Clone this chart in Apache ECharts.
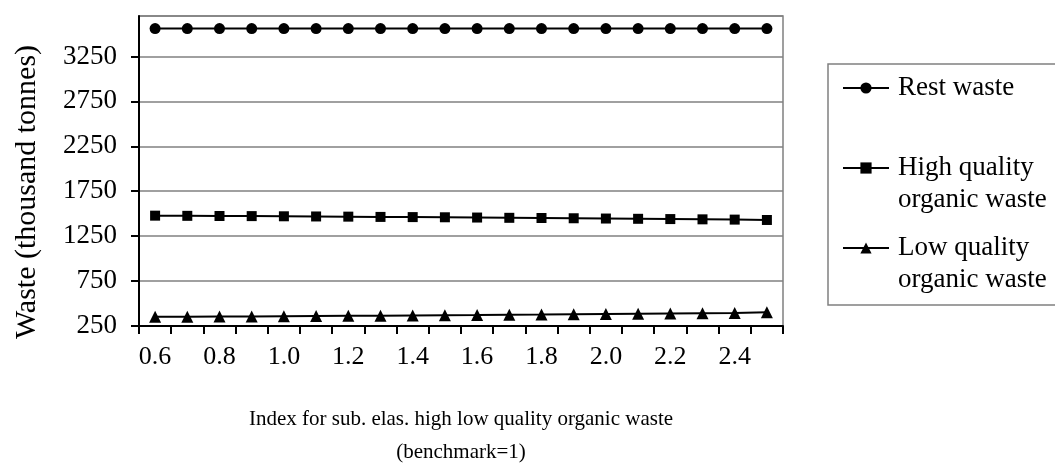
<!DOCTYPE html>
<html>
<head>
<meta charset="utf-8">
<script src="https://cdn.jsdelivr.net/npm/echarts@6/dist/echarts.min.js"></script>
<style>
  html, body { margin: 0; padding: 0; background: #fff; }
  #chart { width: 1055px; height: 467px; }
</style>
</head>
<body>
<div id="chart"></div>
<script>
// Index for substitution elasticity (benchmark = 1)
const indexValues = ['0.6', '0.7', '0.8', '0.9', '1.0', '1.1', '1.2', '1.3', '1.4', '1.5',
                     '1.6', '1.7', '1.8', '1.9', '2.0', '2.1', '2.2', '2.3', '2.4', '2.5'];

// Waste, thousand tonnes
const restWaste = [3560, 3560, 3560, 3560, 3560, 3560, 3560, 3560, 3560, 3560,
                   3560, 3560, 3560, 3560, 3560, 3560, 3560, 3560, 3560, 3560];
const highQualityOrganic = [1478, 1476, 1474, 1473, 1471, 1469, 1467, 1464, 1462, 1460,
                            1457, 1454, 1452, 1449, 1446, 1443, 1440, 1437, 1434, 1430];
const lowQualityOrganic = [352, 353, 355, 357, 359, 361, 363, 365, 367, 370,
                           372, 375, 377, 380, 383, 386, 389, 392, 396, 402];

const seriesNames = ['Rest waste', 'High quality\norganic waste', 'Low quality\norganic waste'];

const FONT = '"Liberation Serif", "Times New Roman", serif';
const LINE_H = 31.5;

const chart = echarts.init(document.getElementById('chart'), null, { renderer: 'canvas' });

function lineSeries(name, data, symbol, size) {
  return {
    name: name,
    type: 'line',
    data: data,
    symbol: symbol,
    symbolSize: size,
    showSymbol: true,
    lineStyle: { color: '#000', width: 2 },
    itemStyle: { color: '#000' },
    emphasis: { disabled: true },
    animation: false
  };
}

const legendCommon = {
  orient: 'vertical',
  itemWidth: 46,
  itemHeight: 14,
  selectedMode: false,
  textStyle: { fontFamily: FONT, fontSize: 27, color: '#000', lineHeight: LINE_H, padding: [0, 0, 0, 4] }
};

// two-line entries: a leading blank line puts the marker beside the first line
const twoLine = name => '\n' + name;

chart.setOption({
  animation: false,
  backgroundColor: '#fff',
  grid: {
    left: 139, top: 16, width: 644, height: 310,
    outerBoundsMode: 'none',
    containLabel: false,
    show: true, borderColor: '#808080', borderWidth: 1.5, backgroundColor: 'transparent'
  },
  legend: [
    Object.assign({}, legendCommon, {
      data: [seriesNames[0]],
      left: 828, top: 64,
      padding: [88 - 64 - LINE_H / 2, 220, 305 - 88 - LINE_H / 2, 14],
      borderColor: '#808080', borderWidth: 1.5
    }),
    Object.assign({}, legendCommon, {
      data: [seriesNames[1]], formatter: twoLine,
      left: 842, top: 168 - 1.5 * LINE_H, padding: 0
    }),
    Object.assign({}, legendCommon, {
      data: [seriesNames[2]], formatter: twoLine,
      left: 842, top: 248 - 1.5 * LINE_H, padding: 0
    })
  ],
  xAxis: {
    type: 'category',
    data: indexValues,
    boundaryGap: true,
    name: 'Index for sub. elas. high low quality organic waste\n(benchmark=1)',
    nameLocation: 'middle',
    nameGap: 77,
    nameTextStyle: { fontFamily: FONT, fontSize: 21, color: '#000', lineHeight: 33 },
    axisLine: { show: true, lineStyle: { color: '#000', width: 2 } },
    axisTick: { show: true, interval: 0, length: 8, lineStyle: { color: '#000', width: 2 } },
    axisLabel: { interval: 1, margin: 18, fontFamily: FONT, fontSize: 26, color: '#000' },
    splitLine: { show: false }
  },
  yAxis: {
    type: 'value',
    min: 250,
    max: 3700,
    interval: 500,
    name: 'Waste (thousand tonnes)',
    nameLocation: 'middle',
    nameGap: 97,
    nameRotate: 90,
    nameTextStyle: { fontFamily: FONT, fontSize: 30, color: '#000', padding: [0, 42, 0, 0] },
    axisLine: { show: true, lineStyle: { color: '#000', width: 2 } },
    axisTick: { show: true, length: 8, inside: false, lineStyle: { color: '#000', width: 2 } },
    axisLabel: {
      showMaxLabel: false, margin: 22, fontFamily: FONT, fontSize: 27, color: '#000',
      formatter: v => String(v)
    },
    splitLine: { show: true, lineStyle: { color: '#808080', width: 1.5 } }
  },
  series: [
    lineSeries(seriesNames[0], restWaste, 'circle', 11),
    lineSeries(seriesNames[1], highQualityOrganic, 'rect', 10),
    lineSeries(seriesNames[2], lowQualityOrganic, 'triangle', 12)
  ]
});
</script>
</body>
</html>
